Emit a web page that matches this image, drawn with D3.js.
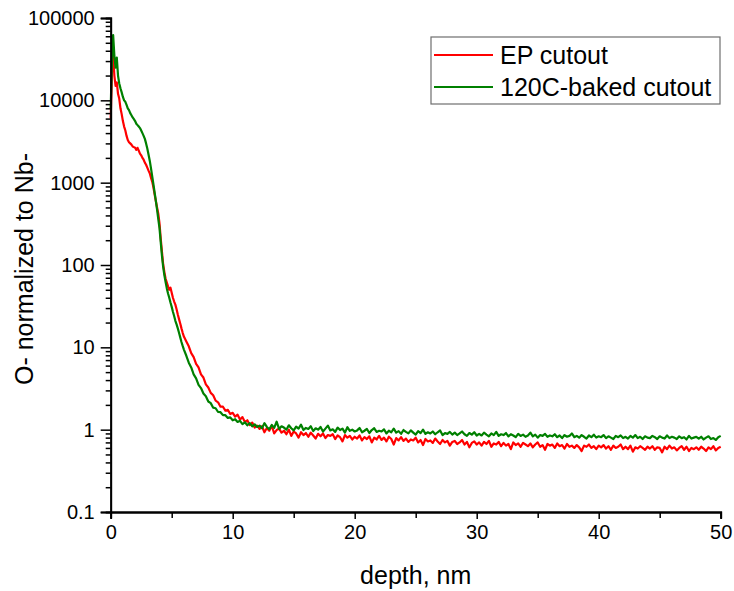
<!DOCTYPE html>
<html><head><meta charset="utf-8">
<script src="https://cdn.jsdelivr.net/npm/d3@7"></script>
<style>
html,body{margin:0;padding:0;background:#fff;}
text{font-family:"Liberation Sans",Arial,sans-serif;fill:#000;}
</style></head>
<body>
<svg id="chart" width="734" height="591"></svg>
<script>
// ---------- data ----------
const seriesNames = ["EP cutout", "120C-baked cutout"];
const seriesColors = ["#ff0000", "#008000"];
const xTicks = [0, 10, 20, 30, 40, 50];
const xMinorTicks = [5, 15, 25, 35, 45];
const yTicks = [0.1, 1, 10, 100, 1000, 10000, 100000];
const yTickLabels = ["0.1", "1", "10", "100", "1000", "10000", "100000"];

const depth = [
 0.0,0.1,0.2,0.3,0.4,0.5,0.6,0.7,0.8,0.9,1.0,1.1,1.2,1.3,1.4,1.5,1.6,1.7,1.8,1.9,
 2.0,2.1,2.2,2.3,2.4,2.5,2.6,2.7,2.8,2.9,3.0,3.1,3.2,3.3,3.4,3.5,3.6,3.7,3.8,3.9,4.0,
 4.1,4.2,4.3,4.4,4.5,4.6,4.7,4.8,4.9,5.0,5.1,5.2,5.3,5.4,5.5,5.6,5.7,5.8,5.9,6.0,
 6.2,6.4,6.6,6.8,7.0,7.2,7.4,7.6,7.8,8.0,8.2,8.4,8.6,8.8,9.0,9.2,9.4,9.6,9.8,10.0,
 10.2,10.4,10.6,10.8,11.0,11.2,11.4,11.6,11.8,12.0,
 12.2,12.4,12.6,12.8,13.0,13.2,13.4,13.6,13.8,14.0,
 14.2,14.4,14.6,14.8,15.0,15.2,15.4,15.6,15.8,16.0,
 16.2,16.4,16.6,16.8,17.0,17.2,17.4,17.6,17.8,18.0,
 18.2,18.4,18.6,18.8,19.0,19.2,19.4,19.6,19.8,20.0,
 20.2,20.4,20.6,20.8,21.0,21.2,21.4,21.6,21.8,22.0,
 22.2,22.4,22.6,22.8,23.0,23.2,23.4,23.6,23.8,24.0,
 24.2,24.4,24.6,24.8,25.0,25.2,25.4,25.6,25.8,26.0,
 26.2,26.4,26.6,26.8,27.0,27.2,27.4,27.6,27.8,28.0,
 28.2,28.4,28.6,28.8,29.0,29.2,29.4,29.6,29.8,30.0,
 30.2,30.4,30.6,30.8,31.0,31.2,31.4,31.6,31.8,32.0,
 32.2,32.4,32.6,32.8,33.0,33.2,33.4,33.6,33.8,34.0,
 34.2,34.4,34.6,34.8,35.0,35.2,35.4,35.6,35.8,36.0,
 36.2,36.4,36.6,36.8,37.0,37.2,37.4,37.6,37.8,38.0,
 38.2,38.4,38.6,38.8,39.0,39.2,39.4,39.6,39.8,40.0,
 40.2,40.4,40.6,40.8,41.0,41.2,41.4,41.6,41.8,42.0,
 42.2,42.4,42.6,42.8,43.0,43.2,43.4,43.6,43.8,44.0,
 44.2,44.4,44.6,44.8,45.0,45.2,45.4,45.6,45.8,46.0,
 46.2,46.4,46.6,46.8,47.0,47.2,47.4,47.6,47.8,48.0,
 48.2,48.4,48.6,48.8,49.0,49.2,49.4,49.6,49.8,50.0
];

const epCutout = [
 6000,22000,35000,20000,15000,16500,12000,10500,8000,6800,5600,4800,4300,3700,3300,3100,3000,2900,2750,2700,
 2650,2500,2650,2450,2250,2150,2000,1900,1750,1650,1520,1400,1300,1150,1030,880,720,600,500,420,320,
 210,145,102,82,68,61,55,50,53,46,40,36,33,29,25,22,19.5,17,15,13.5,
 11.8,10.3,8.5,7.6,6.3,5.7,4.7,4.3,3.55,3.25,2.8,2.62,2.25,2.15,1.9,1.9,1.7,1.74,1.55,1.6,
 1.44,1.52,1.33,1.42,1.24,1.3,1.14,1.22,1.06,1.12,
 1.02,1.10,0.93,1.05,0.97,1.12,0.90,0.99,1.03,0.92,
 0.97,0.88,1.00,0.84,0.95,0.90,0.80,0.93,0.86,0.91,
 0.82,0.92,0.85,0.78,0.89,0.83,0.90,0.79,0.86,0.84,
 0.88,0.77,0.85,0.81,0.72,0.86,0.80,0.84,0.76,0.82,
 0.78,0.85,0.74,0.81,0.77,0.83,0.70,0.80,0.76,0.84,
 0.75,0.80,0.72,0.82,0.77,0.66,0.79,0.74,0.81,0.73,
 0.78,0.71,0.76,0.74,0.80,0.70,0.75,0.65,0.77,0.72,
 0.74,0.69,0.78,0.72,0.67,0.75,0.70,0.73,0.64,0.71,
 0.73,0.67,0.70,0.75,0.66,0.71,0.61,0.69,0.72,0.66,
 0.70,0.64,0.71,0.67,0.73,0.62,0.68,0.66,0.71,0.63,
 0.69,0.64,0.67,0.58,0.70,0.65,0.68,0.62,0.69,0.66,
 0.63,0.68,0.61,0.66,0.70,0.62,0.65,0.57,0.67,0.64,
 0.66,0.60,0.68,0.63,0.65,0.59,0.67,0.62,0.64,0.60,
 0.65,0.61,0.55,0.64,0.62,0.66,0.60,0.63,0.58,0.64,
 0.61,0.65,0.59,0.63,0.57,0.64,0.60,0.62,0.66,0.58,
 0.62,0.58,0.64,0.54,0.61,0.59,0.63,0.60,0.57,0.62,
 0.59,0.63,0.57,0.61,0.60,0.53,0.62,0.58,0.64,0.59,
 0.61,0.56,0.60,0.63,0.57,0.62,0.55,0.60,0.58,0.61,
 0.57,0.62,0.59,0.55,0.61,0.58,0.63,0.56,0.60,0.62
];

const bakedCutout = [
 8000,30000,62000,35000,25000,33000,20000,16000,14000,12500,11000,10000,9600,8800,8000,7600,7000,6600,6200,5900,
 5600,5200,5000,4800,4600,4300,4000,3700,3400,3000,2600,2200,1850,1500,1200,960,760,600,470,360,280,
 190,130,95,75,62,52,45,40,35,31,27,24,21,19,17,15,13.2,11.6,10.4,9.4,
 7.9,6.5,5.7,4.7,4.2,3.5,3.2,2.75,2.55,2.2,2.1,1.85,1.82,1.64,1.63,1.5,1.5,1.39,1.41,1.3,
 1.34,1.24,1.28,1.17,1.23,1.13,1.2,1.1,1.16,1.08,
 1.12,1.04,1.20,1.08,1.01,1.14,1.05,1.25,1.02,1.10,
 1.06,1.00,1.13,1.04,0.98,1.09,1.03,1.15,0.99,1.05,
 1.02,1.10,0.96,1.04,1.00,1.08,0.95,1.03,1.12,0.98,
 1.01,0.94,1.06,0.99,1.03,0.92,1.07,0.97,1.00,0.95,
 0.98,1.05,0.93,0.97,1.02,0.91,0.99,1.04,0.94,0.97,
 0.95,1.01,0.90,0.97,0.93,1.03,0.92,0.96,0.89,0.99,
 0.94,0.90,0.98,0.92,0.87,0.96,0.91,1.00,0.89,0.93,
 0.90,0.95,0.88,0.93,0.98,0.86,0.91,0.89,0.94,0.87,
 0.92,0.86,0.90,0.95,0.88,0.84,0.91,0.87,0.93,0.85,
 0.89,0.85,0.92,0.87,0.83,0.90,0.86,0.94,0.84,0.88,
 0.86,0.91,0.83,0.88,0.85,0.81,0.89,0.84,0.87,0.82,
 0.85,0.92,0.83,0.87,0.80,0.86,0.84,0.89,0.82,0.85,
 0.83,0.88,0.81,0.85,0.79,0.86,0.82,0.84,0.90,0.81,
 0.84,0.80,0.86,0.82,0.78,0.85,0.81,0.87,0.80,0.83,
 0.81,0.86,0.79,0.83,0.80,0.77,0.84,0.81,0.85,0.79,
 0.82,0.78,0.84,0.80,0.86,0.79,0.82,0.77,0.83,0.80,
 0.79,0.84,0.81,0.77,0.83,0.80,0.78,0.85,0.79,0.82,
 0.80,0.77,0.83,0.79,0.81,0.76,0.84,0.78,0.80,0.82,
 0.78,0.82,0.76,0.80,0.83,0.77,0.79,0.75,0.81,0.84
];

// ---------- chart ----------
const svg = d3.select("#chart");
const X0 = 110.7, X1 = 720.7, Y0 = 512, Y1 = 18;
const x = d3.scaleLinear().domain([0, 50]).range([X0, X1]);
const y = d3.scaleLog().domain([0.1, 100000]).range([Y0, Y1]);

const yMinor = [];
for (let e = -1; e < 5; e++) for (let k = 2; k <= 9; k++) yMinor.push(k * Math.pow(10, e));

const series = [epCutout, bakedCutout];
const line = d3.line().x(d => x(d[0])).y(d => y(d[1]));
series.forEach((vals, i) => {
  svg.append("path")
    .datum(depth.map((d, j) => [d, vals[j]]))
    .attr("fill", "none")
    .attr("stroke", seriesColors[i])
    .attr("stroke-width", 2.2)
    .attr("stroke-linejoin", "round")
    .attr("d", line);
});

// axes
const yAxis = svg.append("g").attr("transform", `translate(${X0},0)`)
  .call(d3.axisLeft(y).tickValues(yTicks).tickFormat((d, i) => yTickLabels[i]).tickSize(10).tickPadding(6));
const yAxisMinor = svg.append("g").attr("transform", `translate(${X0},0)`)
  .call(d3.axisLeft(y).tickValues(yMinor).tickFormat("").tickSize(5));
const xAxis = svg.append("g").attr("transform", `translate(0,${Y0})`)
  .call(d3.axisBottom(x).tickValues(xTicks).tickFormat(d3.format("d")).tickSize(7).tickPadding(6));
const xAxisMinor = svg.append("g").attr("transform", `translate(0,${Y0})`)
  .call(d3.axisBottom(x).tickValues(xMinorTicks).tickFormat("").tickSize(6));

[yAxis, yAxisMinor, xAxis, xAxisMinor].forEach(g => {
  g.selectAll("path.domain").attr("stroke", "#000").attr("stroke-width", 1.8);
  g.selectAll(".tick line").attr("stroke", "#000").attr("stroke-width", 1.5);
  g.selectAll(".tick text").style("font-family", '"Liberation Sans",Arial,sans-serif')
    .style("font-size", "20px").attr("fill", "#000");
});

// axis titles
svg.append("text").attr("x", (X0 + X1) / 2).attr("y", 584).attr("text-anchor", "middle")
  .style("font-size", "25px").text("depth, nm");
svg.append("text").attr("transform", `translate(33,${(Y0 + Y1) / 2 + 4}) rotate(-90)`)
  .attr("text-anchor", "middle").style("font-size", "25px").text("O- normalized to Nb-");

// legend
const lg = svg.append("g");
lg.append("rect").attr("x", 431).attr("y", 37).attr("width", 289).attr("height", 67)
  .attr("fill", "#fff").attr("stroke", "#6e6e6e").attr("stroke-width", 1.2);
seriesNames.forEach((name, i) => {
  const yy = 55 + i * 32;
  lg.append("line").attr("x1", 434).attr("x2", 493).attr("y1", yy).attr("y2", yy)
    .attr("stroke", seriesColors[i]).attr("stroke-width", 2);
  lg.append("text").attr("x", 500).attr("y", yy + 8.5).style("font-size", "25px").text(name);
});
</script>
</body></html>
